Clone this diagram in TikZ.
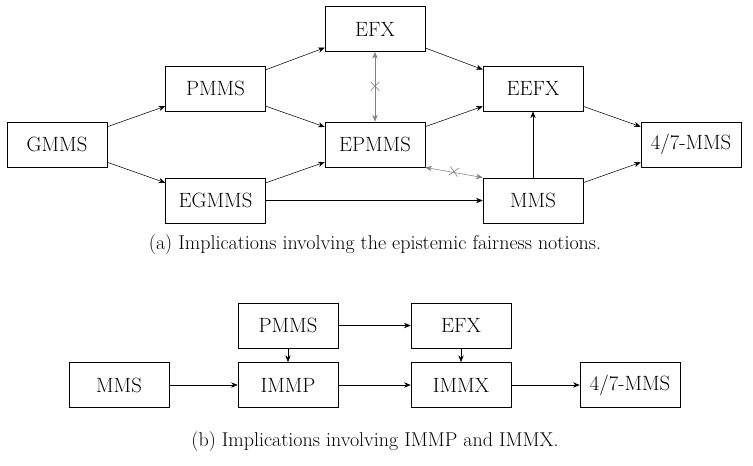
\documentclass[tikz,border=0pt]{standalone}
\usetikzlibrary{arrows.meta}
\begin{document}
\begin{tikzpicture}[x=0.75pt,y=-0.75pt,
  box/.style={draw,minimum width=75pt,minimum height=34pt,inner sep=0pt,font=\fontsize{15.5}{18}\selectfont},
  captext/.style={font=\fontsize{15}{18}\selectfont},
  arr/.style={-{Stealth[length=5pt,width=4pt]}},
  garr/.style={{Stealth[length=5pt,width=4pt]}-{Stealth[length=5pt,width=4pt]},gray},
  cross/.style={gray,font=\Large}]
\useasboundingbox (0,0) rectangle (753,465);
\node[box] (gmms) at (57,144.5) {GMMS};
\node[box] (pmms) at (215.5,88.5) {PMMS};
\node[box] (egmms) at (215.5,200.5) {EGMMS};
\node[box] (efx) at (375,29) {EFX};
\node[box] (epmms) at (375,144.5) {EPMMS};
\node[box] (eefx) at (533,88.5) {EEFX};
\node[box] (mms) at (533,200.5) {MMS};
\node[box] (m47) at (691,144.5) {4/7-MMS};
\draw[arr] (gmms) -- (pmms);
\draw[arr] (gmms) -- (egmms);
\draw[arr] (pmms) -- (efx);
\draw[arr] (pmms) -- (epmms);
\draw[arr] (egmms) -- (epmms);
\draw[arr] (egmms) -- (mms);
\draw[arr] (efx) -- (eefx);
\draw[arr] (epmms) -- (eefx);
\draw[arr] (mms) -- (eefx);
\draw[arr] (eefx) -- (m47);
\draw[arr] (mms) -- (m47);
\draw[garr] (efx.south) -- node[cross]{$\times$} (epmms.north);
\draw[garr] (epmms.south east) -- node[cross,sloped]{$\times$} (mms.north west);
\node[captext] (capa) at (375,245) {(a) Implications involving the epistemic fairness notions.};
\node[box] (pmms2) at (288,325.5) {PMMS};
\node[box] (efx2) at (461,325.5) {EFX};
\node[box] (mms2) at (119,385) {MMS};
\node[box] (immp) at (288,385) {IMMP};
\node[box] (immx) at (461,385) {IMMX};
\node[box] (m472) at (630,385) {4/7-MMS};
\draw[arr] (pmms2) -- (efx2);
\draw[arr] (pmms2) -- (immp);
\draw[arr] (efx2) -- (immx);
\draw[arr] (mms2) -- (immp);
\draw[arr] (immp) -- (immx);
\draw[arr] (immx) -- (m472);
\node[captext] (capb) at (375,442) {(b) Implications involving IMMP and IMMX.};
\end{tikzpicture}
\end{document}
